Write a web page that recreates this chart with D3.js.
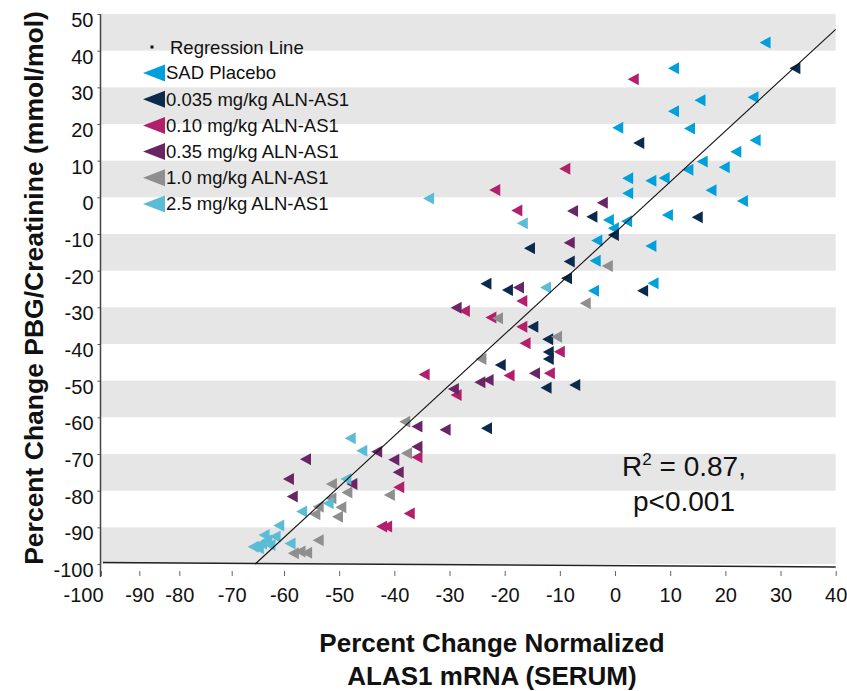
<!DOCTYPE html>
<html>
<head>
<meta charset="utf-8">
<script src="https://cdn.jsdelivr.net/npm/d3@7"></script>
<style>
  body { margin: 0; background: #fff; }
  svg { font-family: "Liberation Sans", Arial, sans-serif; }
</style>
</head>
<body>
<div id="chart"></div>
<script>
// series: [percent change ALAS1 mRNA, percent change PBG/creatinine]
var sadPlacebo = [
  [27.2, 42.2], [10.6, 35.2], [15.4, 26.5], [25.0, 27.3], [10.6, 23.5], [0.5, 19.0],
  [13.5, 18.8], [25.4, 15.6], [21.9, 12.4], [15.8, 9.8], [19.8, 8.2], [13.2, 7.5],
  [2.3, 5.2], [6.5, 4.5], [8.9, 5.3], [17.4, 1.9], [2.3, 1.1], [23.1, -1.0],
  [-1.2, -6.2], [2.1, -6.5], [9.5, -4.8], [-0.3, -8.4], [-3.3, -11.8], [6.5, -13.3],
  [-3.6, -17.3], [-3.9, -25.5], [6.9, -23.4]
];
var dose0035 = [
  [32.6, 35.2], [4.3, 14.8], [-4.2, -5.3], [14.9, -5.4], [-0.3, -10.3], [-15.5, -13.9],
  [-8.3, -17.5], [-8.8, -22.1], [-23.4, -23.6], [-19.5, -25.3], [5.0, -25.5], [-14.9, -35.3],
  [-12.2, -38.7], [-12.1, -42.2], [-12.1, -44.1], [-20.8, -45.7], [-12.5, -51.9], [-7.3, -51.2],
  [-23.3, -63.0]
];
var dose010 = [
  [3.3, 32.2], [-9.1, 7.8], [-21.8, 2.0], [-17.8, -3.6], [-16.9, -28.3], [-27.3, -31.0],
  [-22.5, -32.8], [-16.9, -35.3], [-16.3, -39.8], [-10.1, -42.1], [-34.6, -48.3], [-19.2, -48.6],
  [-11.9, -48.0], [-28.8, -53.9], [-35.9, -70.9], [-39.2, -79.1], [-37.3, -86.2], [-42.3, -89.8],
  [-41.4, -89.8]
];
var dose035 = [
  [-2.3, -1.5], [-7.7, -3.7], [-8.3, -12.4], [-17.5, -24.6], [-28.8, -30.1], [-14.6, -48.0],
  [-24.5, -50.4], [-23.0, -49.8], [-29.3, -52.3], [-30.8, -63.4], [-35.9, -62.5], [-43.2, -69.4],
  [-35.9, -68.0], [-40.1, -71.6], [-56.1, -71.4], [-39.3, -75.0], [-59.2, -76.8], [-47.7, -78.2],
  [-58.5, -81.6]
];
var dose10 = [
  [-1.4, -18.7], [-5.4, -28.9], [-21.3, -33.0], [-10.6, -38.0], [-24.3, -44.1], [-38.1, -61.2],
  [-37.8, -69.8], [-51.4, -78.2], [-48.6, -80.5], [-40.9, -81.2], [-51.5, -82.1], [-53.8, -84.4],
  [-49.7, -84.5], [-54.4, -86.4], [-50.3, -87.1], [-53.8, -93.5], [-58.3, -97.1], [-57.1, -96.6],
  [-55.9, -96.9]
];
var dose25 = [
  [-33.8, -0.3], [-16.8, -7.1], [-12.6, -24.6], [-48.0, -65.7], [-45.9, -69.1], [-48.8, -76.8],
  [-52.0, -83.4], [-56.8, -85.7], [-61.0, -89.5], [-58.9, -94.4], [-61.7, -92.5], [-63.3, -93.5],
  [-64.3, -94.4], [-65.9, -95.3], [-64.9, -95.7], [-62.7, -94.8], [-63.8, -92.1]
];

var seriesNames = ["SAD Placebo", "0.035 mg/kg ALN-AS1", "0.10 mg/kg ALN-AS1",
  "0.35 mg/kg ALN-AS1", "1.0 mg/kg ALN-AS1", "2.5 mg/kg ALN-AS1"];
var seriesData = [sadPlacebo, dose0035, dose010, dose035, dose10, dose25];

var regressionLine = [[-65.5, -100], [40, 45.8]];
var floorLine = [[-99.5, -99.6], [40, -100.8]];

var xTicks = [-100, -90, -80, -70, -60, -50, -40, -30, -20, -10, 0, 10, 20, 30, 40];
var yTicks = [50, 40, 30, 20, 10, 0, -10, -20, -30, -40, -50, -60, -70, -80, -90, -100];
var bandTops = [50, 30, 10, -10, -30, -50, -70, -90];

var width = 847;
var height = 691;
var color = d3.scaleOrdinal()
  .domain(seriesNames)
  .range(["#00a0dc", "#0c2a4c", "#b21f6b", "#6a2566", "#8f8f8f", "#5bbcd6"]);

// the x axis is broken below -60, so use a piecewise scale
var x = d3.scaleLinear()
  .domain([-100, -90, -80, -70, -60, 40])
  .range([101, 139.3, 179.3, 231.7, 284, 835.7]);
var y = d3.scaleLinear().domain([-100, 50]).range([564, 14]);

// plain hyphen instead of d3's unicode minus
var plain = function (d) { return String(d); };

var svg = d3.select("#chart")
  .append("svg")
  .attr("width", width)
  .attr("height", height);

svg.append("g")
  .selectAll("rect")
  .data(bandTops)
  .enter()
  .append("rect")
  .attr("x", x(-100))
  .attr("width", x(40) - x(-100))
  .attr("y", function (d) { return y(d); })
  .attr("height", function (d) { return y(d - 10) - y(d); })
  .attr("fill", "#e6e6e6");

// y axis
var yAxis = svg.append("g")
  .attr("transform", "translate(100.5,0)")
  .call(d3.axisLeft(y).tickValues(yTicks).tickFormat(plain).tickSize(3).tickPadding(4));
yAxis.select(".domain").remove();
yAxis.selectAll(".tick line").attr("stroke", "#555");
yAxis.selectAll(".tick text")
  .attr("y", 6)
  .attr("fill", "#111")
  .style("font-size", "20px")
  .style("font-family", "'Liberation Sans', Arial, sans-serif");
svg.append("line")
  .attr("x1", 100.5).attr("x2", 100.5)
  .attr("y1", y(50)).attr("y2", 577)
  .attr("stroke", "#444")
  .attr("stroke-width", 1.5);

// x axis
var xAxis = svg.append("g")
  .attr("transform", "translate(0,571)")
  .call(d3.axisBottom(x).tickValues(xTicks).tickFormat(plain).tickSize(5).tickPadding(11.5));
xAxis.select(".domain").remove();
xAxis.selectAll(".tick line").attr("stroke", "#666");
xAxis.selectAll(".tick text")
  .attr("dx", function (d) { return d === -100 ? -18 : 0; })
  .attr("fill", "#111")
  .style("font-size", "20px")
  .style("font-family", "'Liberation Sans', Arial, sans-serif");

var line = d3.line()
  .x(function (d) { return x(d[0]); })
  .y(function (d) { return y(d[1]); });

svg.append("path")
  .attr("d", line(floorLine))
  .attr("fill", "none")
  .attr("stroke", "#222")
  .attr("stroke-width", 1.6);

var tri = "M-5.5,0L5.5,-6L5.5,6Z";

var groups = svg.selectAll(".series")
  .data(seriesNames)
  .enter()
  .append("g")
  .attr("class", "series")
  .attr("fill", function (d) { return color(d); });

groups.selectAll("path")
  .data(function (d, i) { return seriesData[i]; })
  .enter()
  .append("path")
  .attr("d", tri)
  .attr("transform", function (d) {
    return "translate(" + x(d[0]) + "," + y(d[1]) + ")";
  });

svg.append("path")
  .attr("d", line(regressionLine))
  .attr("fill", "none")
  .attr("stroke", "#111")
  .attr("stroke-width", 1.1);

// legend
var legend = svg.append("g").style("font-size", "18.5px").attr("fill", "#111");
legend.append("rect")
  .attr("x", 150.5).attr("y", 45.5)
  .attr("width", 3).attr("height", 3)
  .attr("fill", "#111");
legend.append("text")
  .attr("x", 170).attr("y", 48)
  .attr("dy", "0.35em")
  .text("Regression Line");

var items = legend.selectAll(".item")
  .data(seriesNames)
  .enter()
  .append("g")
  .attr("class", "item")
  .attr("transform", function (d, i) { return "translate(0," + (73 + i * 26.2) + ")"; });
items.append("path")
  .attr("d", "M-11,0L11,-8.5L11,8.5Z")
  .attr("transform", "translate(154,0)")
  .attr("fill", function (d) { return color(d); });
items.append("text")
  .attr("x", 166)
  .attr("dy", "0.35em")
  .text(function (d) { return d; });

// r squared note
var note = svg.append("g")
  .attr("text-anchor", "middle")
  .attr("fill", "#111")
  .style("font-size", "28px");
var r2 = note.append("text").attr("x", 684).attr("y", 476);
r2.append("tspan").text("R");
r2.append("tspan").attr("dy", -11).style("font-size", "17px").text("2");
r2.append("tspan").attr("dy", 11).text(" = 0.87,");
note.append("text").attr("x", 684).attr("y", 510.5).text("p<0.001");

// axis titles
svg.append("text")
  .attr("text-anchor", "middle")
  .attr("transform", "translate(43,288) rotate(-90)")
  .style("font-size", "26.5px")
  .style("font-weight", "bold")
  .attr("fill", "#111")
  .text("Percent Change PBG/Creatinine (mmol/mol)");

var xTitle = svg.append("text")
  .attr("text-anchor", "middle")
  .style("font-size", "26px")
  .style("font-weight", "bold")
  .attr("fill", "#111");
xTitle.append("tspan").attr("x", 492).attr("y", 652).text("Percent Change Normalized");
xTitle.append("tspan").attr("x", 492).attr("y", 684.5).text("ALAS1 mRNA (SERUM)");
</script>
</body>
</html>
